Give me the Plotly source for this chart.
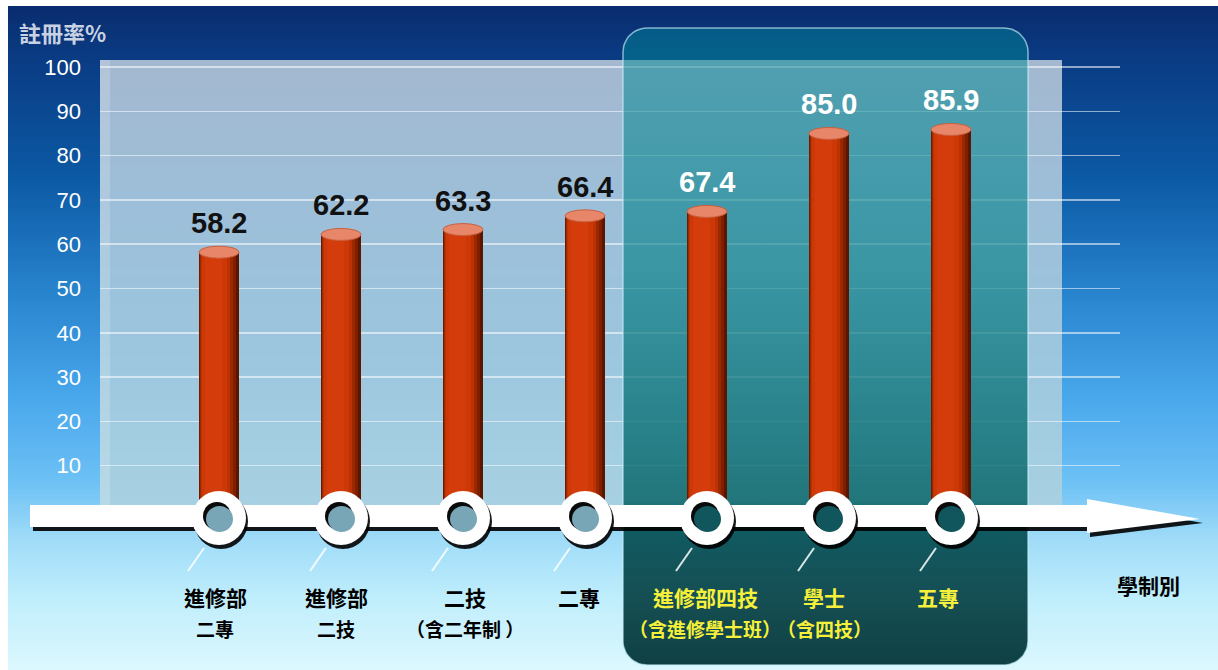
import numpy as np
import plotly.graph_objects as go

# ---------------- data ----------------
categories_line1 = ["進修部", "進修部", "二技", "二專", "進修部四技", "學士", "五專"]
categories_line2 = ["二專", "二技", "（含二年制 ）", "", "（含進修學士班）", "（含四技）", ""]
values = [58.2, 62.2, 63.3, 66.4, 67.4, 85.0, 85.9]
y_tick_values = [10, 20, 30, 40, 50, 60, 70, 80, 90, 100]
y_tick_labels = ["10", "20", "30", "40", "50", "60", "70", "80", "90", "100"]
y_title = "註冊率%"
x_title = "學制別"

# ---------------- styles ----------------
label_colors = ["#000000"] * 4 + ["#f6f03a"] * 3
value_colors = ["#111111"] * 4 + ["#ffffff"] * 3
hole_colors = ["#78a6b6"] * 4 + ["#11565c"] * 3
label_shift = [-4, -5, 2, -6, -2, -5, -13]

W, H = 1218, 670
PLOT_L, PLOT_R = 100, 1120
SX = 122.0          # px per category
FIRST = 219.0       # px of first category
SY = 4.43           # px per unit
Y0PX = 510.0        # px of value 0
X0 = -(FIRST - PLOT_L) / SX
XRANGE = [X0, X0 + (PLOT_R - PLOT_L) / SX]
YRANGE = [(Y0PX - H) / SY, Y0PX / SY]


def pxp(x):
    return x / W


def pyp(y):
    return 1 - y / H


def to_dx(px):
    return X0 + (px - PLOT_L) / SX


def to_dy(py):
    return (Y0PX - py) / SY


def hex2rgb(h):
    h = h.lstrip("#")
    return np.array([int(h[i:i + 2], 16) for i in (0, 2, 4)], dtype=float)


def interp_color(stops, y):
    ys = [s[0] for s in stops]
    cols = np.array([hex2rgb(s[1]) for s in stops])
    c = [np.interp(y, ys, cols[:, k]) for k in range(3)]
    return "rgb(%d,%d,%d)" % tuple(int(round(v)) for v in c)


shapes = []

# background gradient
bg_stops = [(6, "#0a2c6e"), (60, "#0a3c84"), (180, "#0c5aa5"), (300, "#2a86d0"),
            (400, "#4aa8ec"), (480, "#6cc0f4"), (540, "#a0dcf8"), (600, "#c0eefc"),
            (670, "#dcf8fe")]
step = 3
for y in range(6, H, step):
    shapes.append(dict(type="rect", xref="paper", yref="paper", layer="below",
                       x0=pxp(8), x1=1, y0=pyp(y + step + 0.5), y1=pyp(y),
                       fillcolor=interp_color(bg_stops, y + step / 2), line_width=0))

# translucent panel
panel_stops = [(60, "#a4b8d0"), (200, "#9dbed8"), (350, "#9cc6de"), (516, "#a8d2e2")]
for y in range(60, 516, step):
    shapes.append(dict(type="rect", xref="paper", yref="paper", layer="below",
                       x0=pxp(100), x1=pxp(1062), y0=pyp(min(y + step + 0.5, 516)), y1=pyp(y),
                       fillcolor=interp_color(panel_stops, y + step / 2), line_width=0))
shapes.append(dict(type="rect", xref="paper", yref="paper", layer="below",
                   x0=pxp(100), x1=pxp(110), y0=pyp(516), y1=pyp(60),
                   fillcolor="rgba(255,255,255,0.18)", line_width=0))

fig = go.Figure()

# teal highlight box (rounded) with vertical gradient, on the base subplot
bl, br, bt, bb, rr = 623, 1028, 28, 665, 24
pts = []
for cx, cy0, a0, a1 in [(bl + rr, bt + rr, np.pi, 1.5 * np.pi),
                        (br - rr, bt + rr, 1.5 * np.pi, 2 * np.pi),
                        (br - rr, bb - rr, 0, 0.5 * np.pi),
                        (bl + rr, bb - rr, 0.5 * np.pi, np.pi)]:
    for t in np.linspace(a0, a1, 14):
        pts.append((cx + rr * np.cos(t), cy0 + rr * np.sin(t)))
pts.append(pts[0])
bx = [to_dx(p[0]) for p in pts]
by = [to_dy(p[1]) for p in pts]
grad_stops = [(665, "rgba(8,58,62,0.97)"), (600, "rgba(10,68,72,0.94)"),
              (530, "rgba(0,76,80,0.90)"), (500, "rgba(0,95,98,0.80)"),
              (260, "rgba(0,125,132,0.62)"), (60, "rgba(0,135,145,0.50)"),
              (28, "rgba(0,130,150,0.50)")]
cscale = [[(bb - y) / (bb - bt), c] for y, c in grad_stops]
fig.add_trace(go.Scatter(x=bx, y=by, mode="lines", fill="toself",
                         fillgradient=dict(type="vertical", colorscale=cscale),
                         line=dict(color="rgba(200,240,250,0.65)", width=1.5),
                         hoverinfo="skip", showlegend=False, xaxis="x", yaxis="y"))

# cylinder bars built from overlaid strips, on an overlaying subplot (drawn above the box)
idx = list(range(len(values)))
bar_strips = [(-20, 20, "#5c1600"), (-19.5, 17, "#7e2000"), (-19, 14, "#9c2800"),
              (-18, 11, "#bc3204"), (-17, 8, "#cc3806"), (-14, 3, "#d43d0b")]
for s0, s1, col in bar_strips:
    fig.add_trace(go.Bar(x=idx, y=values, width=(s1 - s0) / SX, offset=s0 / SX,
                         marker=dict(color=col, line_width=0),
                         hoverinfo="skip", showlegend=False, xaxis="x2", yaxis="y2"))

# cylinder tops
for i, v in zip(idx, values):
    shapes.append(dict(type="circle", xref="x", yref="y", layer="above",
                       xsizemode="pixel", ysizemode="pixel", xanchor=i, yanchor=v,
                       x0=-20, x1=20, y0=-6, y1=6,
                       fillcolor="#e8866a", line=dict(color="#c9603e", width=1)))


# arrow axis
def arrow_path(dx, dy):
    p = [(30, 505), (1087, 505), (1087, 499), (1200, 519), (1087, 533), (1087, 527), (30, 527)]
    return "M " + " L ".join("%.5f,%.5f" % (pxp(x + dx), pyp(y + dy)) for x, y in p) + " Z"


shapes.append(dict(type="path", xref="paper", yref="paper", layer="above",
                   path=arrow_path(3, 4), fillcolor="rgba(0,0,0,0.9)", line_width=0))
shapes.append(dict(type="path", xref="paper", yref="paper", layer="above",
                   path=arrow_path(0, 0), fillcolor="#ffffff", line_width=0))

# rings on the axis + leader lines
cy = pyp(518)
for i in idx:
    base = dict(type="circle", xref="x", yref="paper", layer="above",
                xsizemode="pixel", ysizemode="pixel", xanchor=i, yanchor=cy, line_width=0)
    shapes.append({**base, "x0": -25, "x1": 29, "y0": -31, "y1": 24, "fillcolor": "rgba(0,0,0,0.9)"})
    shapes.append({**base, "x0": -27, "x1": 27, "y0": -27, "y1": 27, "fillcolor": "#ffffff"})
    shapes.append({**base, "x0": -16, "x1": 12, "y0": -12, "y1": 16, "fillcolor": "#0a0a0a"})
    shapes.append({**base, "x0": -13, "x1": 14, "y0": -14, "y1": 12, "fillcolor": hole_colors[i]})
    shapes.append(dict(type="line", xref="x", yref="paper", layer="above",
                       xsizemode="pixel", ysizemode="pixel", xanchor=i, yanchor=cy,
                       x0=-15, y0=-30, x1=-31, y1=-53,
                       line=dict(color="rgba(255,255,255,0.85)", width=2)))

annotations = []
# value labels
for i, v in zip(idx, values):
    annotations.append(dict(x=i, y=v, xref="x", yref="y", yshift=29, showarrow=False,
                            text="<b>%.1f</b>" % v, xanchor="center", yanchor="middle",
                            font=dict(family="Liberation Sans, Arial, sans-serif", size=29,
                                      color=value_colors[i])))
# category labels
cjk = "Noto Sans CJK TC, Noto Sans CJK SC, sans-serif"
for i in idx:
    annotations.append(dict(x=i, y=pyp(597), xref="x", yref="paper", xshift=label_shift[i],
                            showarrow=False, text="<b>%s</b>" % categories_line1[i],
                            xanchor="center", yanchor="middle",
                            font=dict(family=cjk, size=21, color=label_colors[i])))
    if categories_line2[i]:
        annotations.append(dict(x=i, y=pyp(628), xref="x", yref="paper", xshift=label_shift[i],
                                showarrow=False, text="<b>%s</b>" % categories_line2[i],
                                xanchor="center", yanchor="middle",
                                font=dict(family=cjk, size=19, color=label_colors[i])))
annotations.append(dict(x=pxp(1148), y=pyp(585), xref="paper", yref="paper", showarrow=False,
                        text="<b>%s</b>" % x_title, xanchor="center", yanchor="middle",
                        font=dict(family=cjk, size=21, color="#000000")))
annotations.append(dict(x=pxp(62), y=pyp(32), xref="paper", yref="paper", showarrow=False,
                        text="<b>%s</b>" % y_title, xanchor="center", yanchor="middle",
                        font=dict(family=cjk, size=22, color="#c9d2e2")))

fig.update_layout(
    width=W, height=H, margin=dict(l=0, r=0, t=0, b=0),
    paper_bgcolor="#ffffff", plot_bgcolor="rgba(0,0,0,0)",
    barmode="overlay", showlegend=False, hovermode=False,
    xaxis=dict(domain=[PLOT_L / W, PLOT_R / W], range=XRANGE, visible=False,
               showgrid=False, zeroline=False, automargin=False),
    yaxis=dict(domain=[0, 1], range=YRANGE, tickmode="array",
               tickvals=y_tick_values, ticktext=y_tick_labels, ticks="",
               ticklabelstandoff=18, showgrid=True, gridcolor="rgba(255,255,255,0.55)",
               gridwidth=1.5, zeroline=False, showline=False, automargin=False,
               tickfont=dict(family="Liberation Sans Narrow, Liberation Sans, Arial", size=22,
                             color="#ffffff")),
    xaxis2=dict(overlaying="x", range=XRANGE, visible=False, showgrid=False,
                zeroline=False, automargin=False),
    yaxis2=dict(overlaying="y", range=YRANGE, visible=False, showgrid=False,
                zeroline=False, automargin=False),
    shapes=shapes, annotations=annotations,
)

fig.write_html("out.html", config={"displayModeBar": False, "staticPlot": True},
               post_script="document.body.style.margin='0';document.body.style.overflow='hidden';")
